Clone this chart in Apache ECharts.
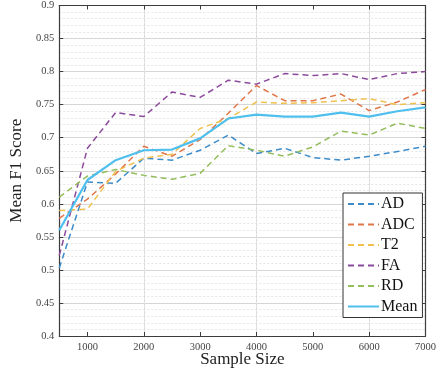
<!DOCTYPE html>
<html>
<head>
<meta charset="utf-8">
<script src="https://cdn.jsdelivr.net/npm/echarts@6/dist/echarts.min.js"></script>
<style>
  html, body { margin: 0; padding: 0; background: #fff; }
  #chart { width: 439px; height: 380px; }
</style>
</head>
<body>
<div id="chart"></div>
<script>
// Sample sizes (x) and mean F1 per feature map
const sampleSizes = [500, 1000, 1500, 2000, 2500, 3000, 3500, 4000, 4500, 5000, 5500, 6000, 6500, 7000];
const AD   = [0.503, 0.633, 0.631, 0.669, 0.666, 0.681, 0.704, 0.676, 0.684, 0.670, 0.666, 0.672, 0.679, 0.687];
const ADC  = [0.578, 0.607, 0.645, 0.687, 0.672, 0.697, 0.737, 0.779, 0.756, 0.756, 0.766, 0.741, 0.754, 0.773];
const T2   = [0.590, 0.592, 0.649, 0.669, 0.675, 0.714, 0.729, 0.754, 0.752, 0.753, 0.756, 0.759, 0.750, 0.753];
const FA   = [0.522, 0.684, 0.738, 0.732, 0.769, 0.761, 0.787, 0.781, 0.797, 0.794, 0.797, 0.788, 0.797, 0.800];
const RD   = [0.610, 0.642, 0.652, 0.643, 0.637, 0.646, 0.688, 0.681, 0.672, 0.686, 0.710, 0.704, 0.722, 0.714];
const MEAN = [0.560, 0.636, 0.666, 0.681, 0.682, 0.699, 0.729, 0.735, 0.732, 0.732, 0.738, 0.732, 0.740, 0.746];

const xTicks = [1000, 2000, 3000, 4000, 5000, 6000, 7000];

const FONT = '"Liberation Serif", "DejaVu Serif", serif';
const AXIS_COLOR = '#3c3c3c';
const MAJOR_GRID = '#d6d6d6';
const MINOR_GRID = '#e6e6e6';

const pairs = ys => sampleSizes.map((x, i) => [x, ys[i]]);

function dashed(name, ys, color) {
  return {
    name, type: 'line', data: pairs(ys),
    xAxisIndex: 0, yAxisIndex: 0,
    symbol: 'none', showSymbol: false,
    lineStyle: { color, width: 1.5, type: [6, 4] },
    itemStyle: { color },
    z: 3
  };
}

const chart = echarts.init(document.getElementById('chart'), null, { renderer: 'canvas' });

chart.setOption({
  animation: false,
  backgroundColor: '#fff',
  grid: { left: 51, right: 9, top: 5, bottom: 44, containLabel: false },
  xAxis: [
    {
      type: 'value', position: 'bottom',
      min: 500, max: 7000, interval: 500,
      name: 'Sample Size', nameLocation: 'middle', nameGap: 15, nameMoveOverlap: false,
      nameTextStyle: { fontFamily: FONT, fontSize: 17, color: '#222' },
      axisLine: { show: true, onZero: false, lineStyle: { color: AXIS_COLOR, width: 1.2 } },
      axisTick: { show: true, inside: true, length: 4, customValues: xTicks, lineStyle: { color: AXIS_COLOR } },
      axisLabel: { customValues: xTicks, margin: 6, fontFamily: FONT, fontSize: 10.5, color: '#444',
                   formatter: v => String(v) },
      splitLine: { show: true, lineStyle: { color: ['transparent', MAJOR_GRID], width: 1 } }
    },
    {
      type: 'value', position: 'top',
      min: 500, max: 7000, interval: 100,
      axisLine: { show: true, onZero: false, lineStyle: { color: AXIS_COLOR, width: 1.2 } },
      axisTick: { show: true, inside: true, length: 4, customValues: xTicks, lineStyle: { color: AXIS_COLOR } },
      axisLabel: { show: false },
      splitLine: { show: true, lineStyle: { color: ['transparent', MINOR_GRID], width: 1, type: [2, 2] } }
    }
  ],
  yAxis: [
    {
      type: 'value', position: 'left',
      min: 0.4, max: 0.9, interval: 0.05,
      name: 'Mean F1 Score', nameLocation: 'middle', nameGap: 30, nameRotate: 90,
      nameTextStyle: { fontFamily: FONT, fontSize: 17, color: '#222' },
      axisLine: { show: true, onZero: false, lineStyle: { color: AXIS_COLOR, width: 1.2 } },
      axisTick: { show: true, inside: true, length: 4, lineStyle: { color: AXIS_COLOR } },
      axisLabel: { margin: 5, fontFamily: FONT, fontSize: 10.5, color: '#444' },
      splitLine: { show: true, lineStyle: { color: MAJOR_GRID, width: 1 } },
      minorTick: { show: false, splitNumber: 5 },
      minorSplitLine: { show: true, lineStyle: { color: MINOR_GRID, width: 1, type: [2, 2] } }
    },
    {
      type: 'value', position: 'right',
      min: 0.4, max: 0.9, interval: 0.05,
      axisLine: { show: true, onZero: false, lineStyle: { color: AXIS_COLOR, width: 1.2 } },
      axisTick: { show: true, inside: true, length: 4, lineStyle: { color: AXIS_COLOR } },
      axisLabel: { show: false },
      splitLine: { show: false }
    }
  ],
  legend: {
    orient: 'vertical',
    left: 343, top: 193,
    padding: [3, 5, 3, 4],
    itemWidth: 31, itemHeight: 14, itemGap: 4.5,
    backgroundColor: '#fff',
    borderColor: '#333', borderWidth: 1, borderRadius: 0,
    itemStyle: { opacity: 0, borderWidth: 0 },
    textStyle: { fontFamily: FONT, fontSize: 16, color: '#111', padding: [0, 0, 0, -3] },
    data: ['AD', 'ADC', 'T2', 'FA', 'RD', 'Mean']
  },
  series: [
    dashed('AD', AD, '#3d8cc9'),
    dashed('ADC', ADC, '#e0764a'),
    dashed('T2', T2, '#efc04e'),
    dashed('FA', FA, '#8c4a9c'),
    dashed('RD', RD, '#94bd5c'),
    {
      name: 'Mean', type: 'line', data: pairs(MEAN),
      xAxisIndex: 0, yAxisIndex: 0,
      symbol: 'none', showSymbol: false,
      lineStyle: { color: '#4fbfee', width: 2.2 },
      itemStyle: { color: '#4fbfee' },
      z: 4
    }
  ]
});
</script>
</body>
</html>
